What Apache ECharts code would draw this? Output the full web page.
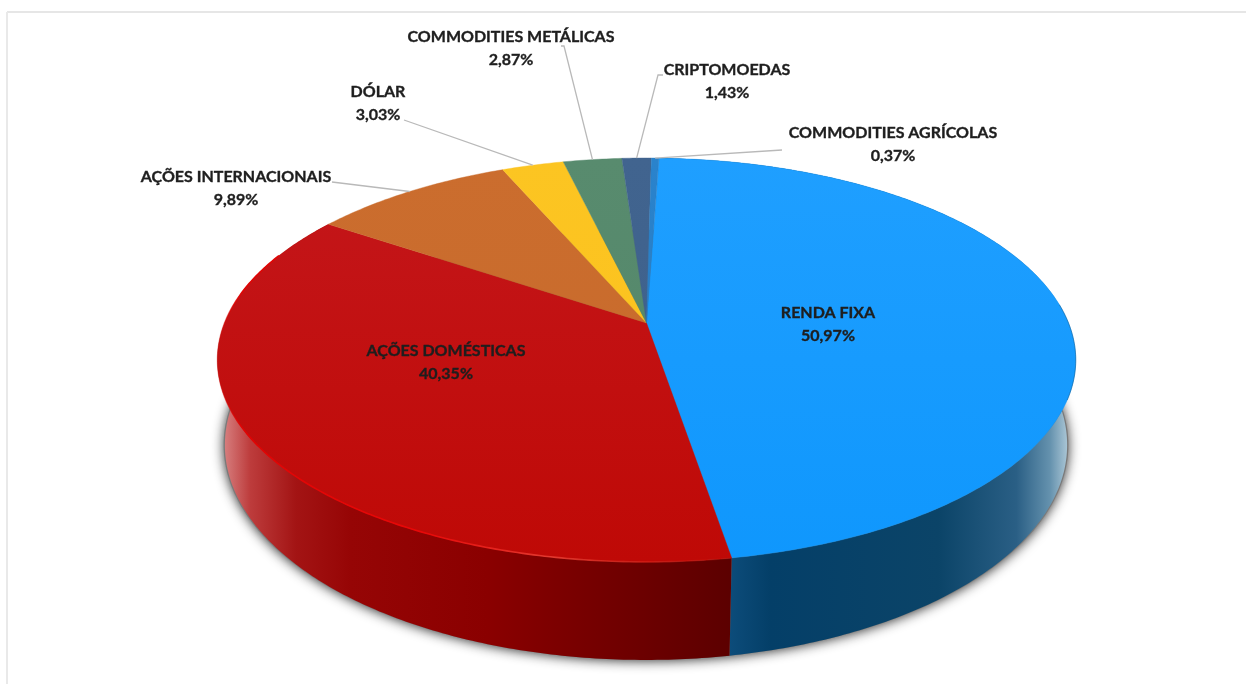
<!DOCTYPE html>
<html>
<head>
<meta charset="utf-8">
<style>html,body{margin:0;padding:0;background:#fff}#chart{width:1246px;height:684px}</style>
<script src="https://cdn.jsdelivr.net/npm/echarts@6/dist/echarts.min.js"></script>
</head>
<body>
<div id="chart"></div>
<script>
// Asset allocation, in pie order (clockwise from the top of the disc)
const categories = ['RENDA FIXA', 'AÇÕES DOMÉSTICAS', 'AÇÕES INTERNACIONAIS', 'DÓLAR',
  'COMMODITIES METÁLICAS', 'CRIPTOMOEDAS', 'COMMODITIES AGRÍCOLAS'];
const shares = [50.97, 40.35, 9.89, 3.03, 2.87, 1.43, 0.37];
const shareLabels = ['50,97%', '40,35%', '9,89%', '3,03%', '2,87%', '1,43%', '0,37%'];

// Face colours
const faceColors = [
  ['#1f9fff', '#0f97fd'], ['#c4171b', '#bf0906'], ['#cb6d2e', '#c76a2b'], ['#fcc522', '#fbc01c'],
  ['#588b6e', '#528669'], ['#41648f', '#3c5f8a'], ['#2a83cc', '#2579c0']
];
// Horizontal shading of the cylinder wall, for the two slices that face the viewer
const wallShades = {
  0: [[0, '#0c4c7a'], [0.12, '#043f68'], [0.62, '#0b4468'], [0.85, '#2a5f85'], [0.95, '#6592ae'], [1, '#a8c4d4']],
  1: [[0, '#d67c7c'], [0.05, '#bd3c3c'], [0.14, '#a31414'], [0.25, '#960505'], [0.52, '#8a0000'], [0.76, '#720000'], [1, '#5c0000']]
};
const wallExtent = { 0: [730, 1067], 1: [225, 730] };

// Label anchors [x, y of first line] and leader elbows, per slice
const labelAnchors = [[828, 313], [446, 351], [236, 177], [378, 92], [511, 37], [727, 70], [893, 133]];
const leaderStarts = [
  null, null,
  [[332, 182]],
  [[404, 120]],
  [[561, 46], [564, 46]],
  [[663, 75], [658, 75]],
  [[782, 150]]
];

// Perspective projection of the disc: top rim and bottom rim
const K = 0.183;
const topRim = { cx: 646.5, cy: 323, a: 422, b: 195.2 };
const botRim = { cx: 646, cy: 405.6, a: 414, b: 207.8 };
const START = 2 * Math.PI / 180;

function project(rim, theta) {
  const u = Math.sin(theta), v = -Math.cos(theta), w = 1 - K * v;
  return [rim.cx + rim.a * u / w, rim.cy + rim.b * v / w];
}
function arc(rim, from, to) {
  const n = Math.max(2, Math.ceil(Math.abs(to - from) * 90)), pts = [];
  for (let i = 0; i <= n; i++) pts.push(project(rim, from + (to - from) * i / n));
  return pts;
}

const total = shares.reduce((s, v) => s + v, 0);
function sliceAngles(i) {
  let before = 0;
  for (let j = 0; j < i; j++) before += shares[j];
  return [START + before / total * 2 * Math.PI, START + (before + shares[i]) / total * 2 * Math.PI];
}

function renderSlice(params, api) {
  const i = params.dataIndex;
  const [a0, a1] = sliceAngles(i);
  const rimPts = arc(topRim, a0, a1);
  const children = [];

  // soft ground shadow under the disc
  if (i === 0) {
    const footprint = arc(botRim, 0, 2 * Math.PI).map(p => [botRim.cx + (p[0] - botRim.cx) * 1.003, p[1]]);
    children.push({
      type: 'polygon', z2: 0, shape: { points: footprint },
      style: { fill: '#7a7a7a', shadowBlur: 12, shadowColor: 'rgba(40,40,40,0.95)', shadowOffsetY: 1 }
    });
  }

  // cylinder wall
  if (wallShades[i]) {
    const ext = wallExtent[i];
    children.push({
      type: 'polygon', z2: 1,
      shape: { points: rimPts.concat(arc(botRim, a1, a0)) },
      style: { fill: new echarts.graphic.LinearGradient(ext[0], 0, ext[1], 0,
        wallShades[i].map(s => ({ offset: s[0], color: s[1] })), true) }
    });
  }

  // top face
  children.push({
    type: 'polygon', z2: 2,
    shape: { points: [[topRim.cx, topRim.cy]].concat(rimPts) },
    style: {
      fill: new echarts.graphic.LinearGradient(0, 158, 0, 562, [
        { offset: 0, color: faceColors[i][0] }, { offset: 1, color: faceColors[i][1] }], true),
      stroke: faceColors[i][1], lineWidth: 0.4
    }
  });

  // rim highlights on the wall edge
  if (i === 1) {
    const bright = arc(topRim, a0, Math.PI * 1.62);
    children.push({
      type: 'polyline', z2: 3, shape: { points: bright },
      style: { fill: null, lineWidth: 1.6,
        stroke: new echarts.graphic.LinearGradient(217, 0, 730, 0, [
          { offset: 0, color: 'rgba(226,0,0,0)' }, { offset: 0.05, color: '#e00404' },
          { offset: 0.4, color: '#e80808' }, { offset: 0.65, color: '#e23a30' }, { offset: 1, color: 'rgba(210,20,10,0.2)' }], true) }
    });
  }
  if (i === 0) {
    const edge = arc(topRim, Math.PI * 0.47, Math.PI * 0.62);
    children.push({
      type: 'polyline', z2: 3, shape: { points: edge },
      style: { fill: null, lineWidth: 1, stroke: 'rgba(8,80,130,0.45)' }
    });
  }

  // leader line from label to the middle of the slice's rim
  if (leaderStarts[i]) {
    children.push({
      type: 'polyline', z2: 4,
      shape: { points: leaderStarts[i].concat([project(topRim, (a0 + a1) / 2)]) },
      style: { fill: null, stroke: '#b9b9b9', lineWidth: 1.3 }
    });
  }

  // two-line label: category over share
  const lx = labelAnchors[i][0], ly = labelAnchors[i][1];
  [categories[i], shareLabels[i]].forEach((line, k) => {
    children.push({
      type: 'text', z2: 5, x: lx, y: ly + k * 22.5,
      style: {
        text: line,
        fill: '#1e1e1e', stroke: '#1e1e1e', lineWidth: 0.35,
        font: 'bold 16px Lato, sans-serif',
        textAlign: 'center', textVerticalAlign: 'middle'
      }
    });
  });

  return { type: 'group', children };
}

const chart = echarts.init(document.getElementById('chart'), null, { renderer: 'canvas' });
chart.setOption({
  animation: false,
  backgroundColor: '#ffffff',
  graphic: [
    { type: 'line', silent: true, shape: { x1: 7, y1: 12, x2: 1246, y2: 12 }, style: { stroke: '#e6e6e6', lineWidth: 2 } },
    { type: 'line', silent: true, shape: { x1: 7, y1: 12, x2: 7, y2: 684 }, style: { stroke: '#e9e9e9', lineWidth: 2 } }
  ],
  series: [{
    type: 'custom',
    coordinateSystem: 'none',
    renderItem: renderSlice,
    data: shares.map((v, i) => [i, v])
  }]
});
</script>
</body>
</html>
